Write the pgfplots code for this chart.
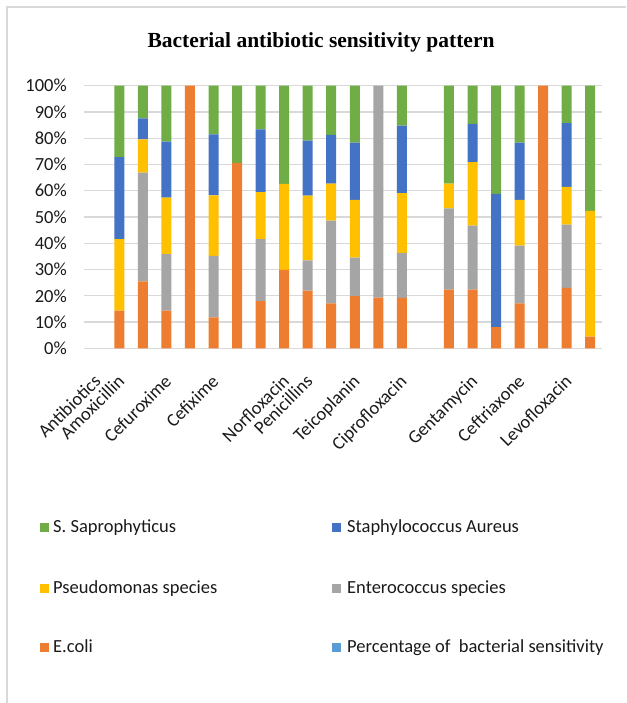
\documentclass[border=0pt]{standalone}
\usepackage{fontspec}
\setmainfont{Carlito}
\newfontfamily\titlefont{Liberation Serif}
\usepackage{pgfplots}
\pgfplotsset{compat=1.18}
\definecolor{cE}{HTML}{ED7D31}
\definecolor{cEn}{HTML}{A5A5A5}
\definecolor{cPs}{HTML}{FFC000}
\definecolor{cSt}{HTML}{4472C4}
\definecolor{cSS}{HTML}{70AD47}
\definecolor{cPc}{HTML}{5B9BD5}
\definecolor{gridgray}{HTML}{D9D9D9}
\definecolor{txt}{HTML}{1A1A1A}
\begin{document}
\begin{tikzpicture}
\path[use as bounding box] (0pt,0pt) rectangle (626pt,703pt);
\draw[gridgray, line width=1.2pt] (7pt,0pt) -- (7pt,696pt) -- (626pt,696pt);
\node[font=\titlefont\bfseries\fontsize{21.5}{24}\selectfont, anchor=base, text=black] at (321pt,655pt) {Bacterial antibiotic sensitivity pattern};
\begin{axis}[
  at={(84pt,354.7pt)}, anchor=south west,
  width=518pt, height=262.6pt, scale only axis,
  ybar stacked, bar width=10pt,
  xmin=-0.5, xmax=21.5, ymin=0, ymax=100,
  axis line style={draw=none},
  major tick length=0pt,
  ymajorgrids, grid style={line width=1.3pt, color=gridgray},
  ytick={0,10,...,100},
  yticklabels={0\%,10\%,20\%,30\%,40\%,50\%,60\%,70\%,80\%,90\%,100\%},
  yticklabel style={font=\fontsize{18.5}{20}\selectfont, text=txt, anchor=east, inner sep=0pt, xshift=-17pt},
  xtick={0,1,3,5,8,9,11,13,16,18,20},
  xticklabels={Antibiotics,Amoxicillin,Cefuroxime,Cefixime,Norfloxacin,Penicillins,Teicoplanin,Ciprofloxacin,Gentamycin,Ceftriaxone,Levofloxacin},
  xticklabel style={xshift=-3pt, yshift=-25pt, font=\fontsize{18.5}{20}\selectfont, text=txt, rotate=45, anchor=north east, inner sep=0pt},
  every axis plot/.append style={draw=none},
]
% E.coli
\addplot[fill=cE] coordinates {(0,0) (1,14.3) (2,25.5) (3,14.3) (4,100) (5,11.8) (6,70.6) (7,18.0) (8,29.9) (9,22.0) (10,17.1) (11,19.9) (12,19.3) (13,19.2) (14,0) (15,22.3) (16,22.3) (17,8.1) (18,17.1) (19,100) (20,23.0) (21,4.4)};
% Enterococcus species
\addplot[fill=cEn] coordinates {(0,0) (1,0) (2,41.4) (3,21.6) (4,0) (5,23.4) (6,0) (7,23.6) (8,0) (9,11.5) (10,31.5) (11,14.6) (12,80.7) (13,17.1) (14,0) (15,31.0) (16,24.4) (17,0) (18,22.0) (19,0) (20,24.1) (21,0)};
% Pseudomonas species
\addplot[fill=cPs] coordinates {(0,0) (1,27.3) (2,12.7) (3,21.5) (4,0) (5,23.0) (6,0) (7,17.9) (8,32.7) (9,24.6) (10,14.1) (11,22.0) (12,0) (13,22.8) (14,0) (15,9.4) (16,24.2) (17,0) (18,17.4) (19,0) (20,14.4) (21,47.9)};
% Staphylococcus Aureus
\addplot[fill=cSt] coordinates {(0,0) (1,31.2) (2,8.0) (3,21.3) (4,0) (5,23.3) (6,0) (7,23.9) (8,0) (9,21.0) (10,18.6) (11,21.8) (12,0) (13,25.7) (14,0) (15,0) (16,14.6) (17,50.7) (18,21.8) (19,0) (20,24.2) (21,0)};
% S. Saprophyticus
\addplot[fill=cSS] coordinates {(0,0) (1,27.2) (2,12.4) (3,21.3) (4,0) (5,18.5) (6,29.4) (7,16.6) (8,37.4) (9,20.9) (10,18.7) (11,21.7) (12,0) (13,15.2) (14,0) (15,37.3) (16,14.5) (17,41.2) (18,21.7) (19,0) (20,14.3) (21,47.7)};
\end{axis}
% legend
\begin{scope}[every node/.style={font=\fontsize{18.5}{20}\selectfont, text=txt, anchor=base west, inner sep=0pt}]
\fill[cSS] (40pt,171pt) rectangle (49pt,180pt);
\node at (53pt,170pt) {S. Saprophyticus};
\fill[cSt] (332pt,171pt) rectangle (341pt,180pt);
\node at (347pt,170pt) {Staphylococcus Aureus};
\fill[cPs] (40pt,110pt) rectangle (49pt,119pt);
\node at (53pt,109pt) {Pseudomonas species};
\fill[cEn] (332pt,110pt) rectangle (341pt,119pt);
\node at (347pt,109pt) {Enterococcus species};
\fill[cE] (40pt,51pt) rectangle (49pt,60pt);
\node at (53pt,50pt) {E.coli};
\fill[cPc] (332pt,51pt) rectangle (341pt,60pt);
\node at (347pt,50pt) {Percentage of\ \ bacterial sensitivity};
\end{scope}
\end{tikzpicture}
\end{document}
